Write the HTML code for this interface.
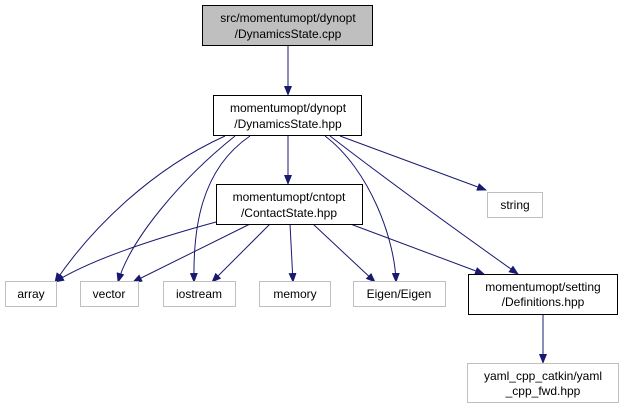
<!DOCTYPE html>
<html><head><style>body{margin:0;background:#fff}svg{display:block}</style></head><body>
<svg width="624" height="409" xmlns="http://www.w3.org/2000/svg" font-family="Liberation Sans, sans-serif" font-size="12" text-anchor="middle">
<defs><marker id="a" markerWidth="10" markerHeight="8" refX="9" refY="4" orient="auto" markerUnits="userSpaceOnUse"><path d="M0,0 L10,4 L0,8 z" fill="#191970"/></marker></defs>
<g fill="none" stroke="#191970" stroke-width="1" marker-end="url(#a)">
<path d="M288,46 L288,95"/>
<path d="M288,136 L288,184"/>
<path d="M340,136 L486,190"/>
<path d="M225,136 C150,170 90,230 55,282"/>
<path d="M235,136 C180,180 130,240 118,282"/>
<path d="M250,136 C200,170 193,230 194,282"/>
<path d="M325,136 C370,170 395,240 396,282"/>
<path d="M330,136 C400,190 470,240 518,274"/>
<path d="M216,222 C150,240 90,260 55,282"/>
<path d="M250,224 L133,282"/>
<path d="M270,224 L212,282"/>
<path d="M290,224 L293,282"/>
<path d="M313,224 L375,282"/>
<path d="M345,222 L484,274"/>
<path d="M543,314 L543,363"/>
</g>
<rect x="202.5" y="5.5" width="170" height="40" fill="#bfbfbf" stroke="#000"/>
<text x="288" y="22">src/momentumopt/dynopt</text><text x="288" y="38">/DynamicsState.cpp</text>
<rect x="213.5" y="95.5" width="148" height="40" fill="#fff" stroke="#000"/>
<text x="288" y="112">momentumopt/dynopt</text><text x="288" y="128">/DynamicsState.hpp</text>
<rect x="216.5" y="184.5" width="146" height="40" fill="#fff" stroke="#000"/>
<text x="289" y="201">momentumopt/cntopt</text><text x="289" y="217">/ContactState.hpp</text>
<g fill="#fff" stroke="#bfbfbf">
<rect x="487.5" y="192.5" width="55" height="25"/>
<rect x="5.5" y="281.5" width="51" height="25"/>
<rect x="80.5" y="281.5" width="58" height="25"/>
<rect x="163.5" y="281.5" width="72" height="25"/>
<rect x="259.5" y="281.5" width="71" height="25"/>
<rect x="353.5" y="281.5" width="92" height="25"/>
<rect x="467.5" y="363.5" width="151" height="39"/>
</g>
<text x="515" y="209">string</text>
<text x="31" y="298">array</text>
<text x="109" y="298">vector</text>
<text x="199" y="298">iostream</text>
<text x="295" y="298">memory</text>
<text x="399" y="298">Eigen/Eigen</text>
<rect x="468.5" y="274.5" width="149" height="40" fill="#fff" stroke="#000"/>
<text x="543" y="291">momentumopt/setting</text><text x="543" y="306">/Definitions.hpp</text>
<text x="543" y="380">yaml_cpp_catkin/yaml</text><text x="543" y="395">_cpp_fwd.hpp</text>
</svg>
</body></html>
